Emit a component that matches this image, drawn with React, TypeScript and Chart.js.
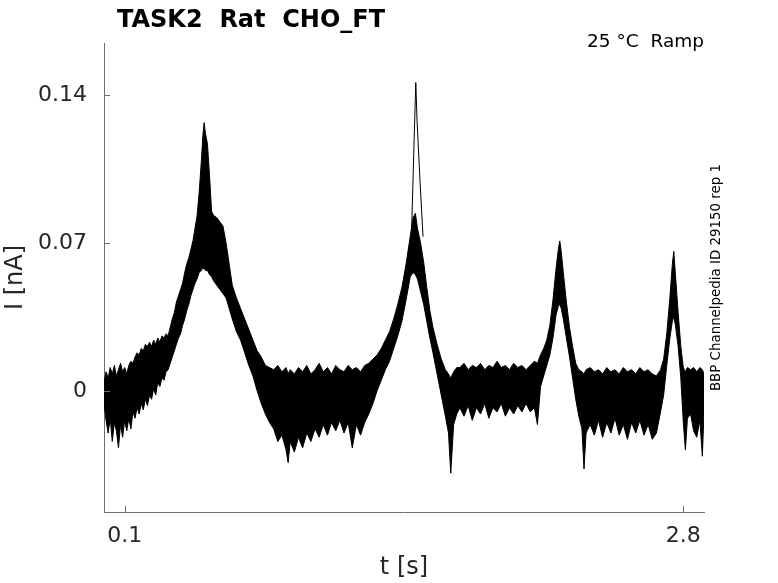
import React, { useEffect, useRef } from 'react';
import Chart from 'chart.js/auto';

// time axis [s], shared by the upper and lower edge of the sweep bundle
const timeS = [
  0.0, 0.01, 0.02, 0.03, 0.04, 0.05, 0.06, 0.07, 0.08, 0.09,
  0.1, 0.11, 0.12, 0.13, 0.14, 0.15, 0.16, 0.17, 0.18, 0.19,
  0.2, 0.21, 0.22, 0.23, 0.24, 0.25, 0.26, 0.27, 0.28, 0.29,
  0.3, 0.31, 0.32, 0.33, 0.34, 0.35, 0.36, 0.37, 0.38, 0.39,
  0.4, 0.41, 0.42, 0.43, 0.44, 0.45, 0.46, 0.47, 0.478, 0.484,
  0.49, 0.5, 0.51, 0.52, 0.53, 0.545, 0.56, 0.575, 0.59, 0.605,
  0.62, 0.64, 0.66, 0.68, 0.7, 0.72, 0.74, 0.76, 0.78, 0.8,
  0.82, 0.84, 0.86, 0.88, 0.89, 0.9, 0.92, 0.94, 0.96, 0.98,
  1.0, 1.02, 1.04, 1.06, 1.08, 1.1, 1.12, 1.14, 1.16, 1.18,
  1.2, 1.22, 1.24, 1.26, 1.28, 1.3, 1.32, 1.34, 1.36, 1.38,
  1.4, 1.42, 1.44, 1.46, 1.48, 1.494, 1.505, 1.515, 1.53, 1.545,
  1.56, 1.575, 1.59, 1.61, 1.63, 1.65, 1.665, 1.676, 1.69, 1.705,
  1.72, 1.74, 1.76, 1.78, 1.8, 1.82, 1.84, 1.86, 1.88, 1.9,
  1.92, 1.94, 1.96, 1.98, 2.0, 2.02, 2.04, 2.06, 2.08, 2.095,
  2.11, 2.125, 2.14, 2.155, 2.17, 2.185, 2.196, 2.203, 2.21, 2.22,
  2.235, 2.25, 2.265, 2.28, 2.295, 2.31, 2.32, 2.33, 2.35, 2.37,
  2.39, 2.41, 2.43, 2.45, 2.47, 2.49, 2.51, 2.53, 2.55, 2.57,
  2.59, 2.61, 2.63, 2.65, 2.67, 2.69, 2.705, 2.72, 2.735, 2.747,
  2.754, 2.762, 2.775, 2.788, 2.8, 2.81, 2.82, 2.835, 2.85, 2.865,
  2.88, 2.892, 2.9,
];

// upper edge of the overlapping sweeps [nA]
const upperNA = [
  0.004, 0.009, 0.006, 0.011, 0.008, 0.012, 0.007, 0.01, 0.013, 0.009,
  0.011, 0.008, 0.012, 0.014, 0.013, 0.016, 0.018, 0.017, 0.02, 0.019,
  0.022, 0.021, 0.023, 0.021, 0.024, 0.022, 0.025, 0.023, 0.026, 0.025,
  0.027, 0.026, 0.03, 0.034, 0.037, 0.042, 0.045, 0.048, 0.051, 0.056,
  0.06, 0.063, 0.067, 0.071, 0.077, 0.083, 0.094, 0.108, 0.121, 0.127,
  0.122, 0.117, 0.102, 0.085, 0.083, 0.082, 0.08, 0.078, 0.07, 0.06,
  0.05, 0.044, 0.039, 0.034, 0.029, 0.024, 0.019, 0.016, 0.012, 0.011,
  0.01, 0.012, 0.009, 0.011, 0.008, 0.01, 0.008, 0.011, 0.009, 0.012,
  0.008, 0.01, 0.013, 0.009, 0.011, 0.008, 0.012, 0.01, 0.009, 0.012,
  0.01, 0.011, 0.009, 0.012, 0.013, 0.015, 0.017, 0.02, 0.024, 0.028,
  0.034, 0.041, 0.049, 0.06, 0.073, 0.082, 0.084, 0.077, 0.07, 0.061,
  0.049, 0.038, 0.03, 0.022, 0.015, 0.01, 0.008, 0.006, 0.009, 0.011,
  0.011, 0.013, 0.01, 0.012, 0.011, 0.013, 0.01, 0.012, 0.011, 0.014,
  0.011, 0.012, 0.01, 0.013, 0.011, 0.012, 0.01, 0.012, 0.014, 0.013,
  0.017, 0.02, 0.024, 0.031, 0.043, 0.058, 0.067, 0.071, 0.066, 0.056,
  0.042, 0.03, 0.021, 0.013, 0.01, 0.009, 0.008, 0.01, 0.011, 0.009,
  0.01, 0.008, 0.011, 0.009, 0.01, 0.008, 0.011, 0.009, 0.01, 0.008,
  0.011, 0.009, 0.01, 0.008, 0.007, 0.01, 0.015, 0.027, 0.044, 0.06,
  0.066, 0.055, 0.037, 0.021, 0.011, 0.009, 0.011, 0.01, 0.011, 0.009,
  0.011, 0.01, 0.008,
];

// lower edge of the overlapping sweeps [nA]
const lowerNA = [
  -0.006, -0.014, -0.02, -0.013, -0.024, -0.015, -0.019, -0.027, -0.016, -0.022,
  -0.014, -0.019, -0.013, -0.018, -0.01, -0.013, -0.008, -0.011, -0.006, -0.009,
  -0.004, -0.007, -0.002, -0.004, 0.001, -0.002, 0.004, 0.002, 0.006, 0.005,
  0.009, 0.01, 0.013, 0.016, 0.019, 0.022, 0.025, 0.027, 0.031, 0.034,
  0.038, 0.041, 0.045, 0.048, 0.051, 0.053, 0.056, 0.057, 0.058, 0.058,
  0.057, 0.057, 0.055, 0.054, 0.052, 0.05, 0.048, 0.046, 0.044, 0.039,
  0.034, 0.028, 0.024, 0.018, 0.012, 0.007, 0.0, -0.006, -0.011, -0.015,
  -0.018, -0.024, -0.021, -0.028, -0.034, -0.024, -0.029, -0.022, -0.027, -0.02,
  -0.024, -0.018, -0.022, -0.016, -0.021, -0.015, -0.019, -0.014, -0.02, -0.015,
  -0.027, -0.016, -0.021, -0.015, -0.011, -0.006, 0.0, 0.005, 0.01, 0.014,
  0.02, 0.026, 0.033, 0.043, 0.054, 0.056, 0.055, 0.053, 0.047, 0.041,
  0.033, 0.025, 0.018, 0.008, -0.002, -0.012, -0.02, -0.039, -0.016, -0.011,
  -0.008, -0.012, -0.007, -0.014, -0.008, -0.011, -0.006, -0.013, -0.008, -0.01,
  -0.006, -0.012, -0.008, -0.011, -0.007, -0.01, -0.006, -0.01, -0.008, -0.016,
  0.002, 0.007, 0.012, 0.017, 0.025, 0.036, 0.04, 0.041, 0.039, 0.034,
  0.025, 0.016, 0.006, -0.004, -0.012, -0.018, -0.037, -0.02, -0.016, -0.021,
  -0.014, -0.022, -0.015, -0.02, -0.013, -0.021, -0.016, -0.023, -0.015, -0.02,
  -0.014, -0.021, -0.016, -0.023, -0.02, -0.01, -0.002, 0.012, 0.025, 0.033,
  0.035, 0.031, 0.021, 0.006, -0.015, -0.028, -0.013, -0.011, -0.019, -0.022,
  -0.014, -0.031, -0.01,
];

// single sweep that overshoots at the second peak
const spikeTimeS = [1.486, 1.497, 1.507, 1.513, 1.527, 1.542];
const spikeNA = [0.073, 0.112, 0.146, 0.128, 0.1, 0.073];

const xTickValues = [0.1, 2.8];
const yTickValues = [0, 0.07, 0.14];

const toPoints = (xs: number[], ys: number[]) => xs.map((x, i) => ({ x, y: ys[i] }));

const FONT = '"DejaVu Sans", sans-serif';
const AXIS_GREY = '#6e6e6e';
const TEXT_DARK = '#262626';

// inward tick marks plus the free-standing texts
const decorPlugin = {
  id: 'decor',
  afterDraw(chart: any) {
    const { ctx, chartArea, scales } = chart;
    ctx.save();
    ctx.strokeStyle = AXIS_GREY;
    ctx.lineWidth = 1;
    ctx.beginPath();
    xTickValues.forEach(v => {
      const px = Math.round(scales.x.getPixelForValue(v)) + 0.5;
      ctx.moveTo(px, chartArea.bottom);
      ctx.lineTo(px, chartArea.bottom - 6);
    });
    yTickValues.forEach(v => {
      const py = Math.round(scales.y.getPixelForValue(v)) + 0.5;
      ctx.moveTo(chartArea.left, py);
      ctx.lineTo(chartArea.left + 6, py);
    });
    ctx.stroke();

    ctx.fillStyle = '#000';
    ctx.textBaseline = 'alphabetic';
    ctx.font = `bold 24px ${FONT}`;
    ctx.textAlign = 'left';
    ctx.fillText('TASK2  Rat  CHO_FT', 117, 27);

    ctx.font = `18.5px ${FONT}`;
    ctx.textAlign = 'right';
    ctx.fillText('25 °C  Ramp', chartArea.right, 47);

    ctx.translate(716.5, (chartArea.top + chartArea.bottom) / 2);
    ctx.rotate(-Math.PI / 2);
    ctx.font = `13.4px ${FONT}`;
    ctx.textAlign = 'center';
    ctx.textBaseline = 'middle';
    ctx.fillText('BBP Channelpedia ID 29150 rep 1', 0, 0);
    ctx.restore();
  },
};

const App: React.FC = () => {
  const canvasRef = useRef<HTMLCanvasElement>(null);

  useEffect(() => {
    if (!canvasRef.current) return;
    const chart = new Chart(canvasRef.current, {
      type: 'line',
      data: {
        datasets: [
          {
            label: 'upper',
            data: toPoints(timeS, upperNA),
            borderColor: '#000',
            borderWidth: 1,
            pointRadius: 0,
            fill: false,
          },
          {
            label: 'lower',
            data: toPoints(timeS, lowerNA),
            borderColor: '#000',
            backgroundColor: '#000',
            borderWidth: 1,
            pointRadius: 0,
            fill: '-1',
          },
          {
            label: 'spike',
            data: toPoints(spikeTimeS, spikeNA),
            borderColor: '#000',
            borderWidth: 1,
            pointRadius: 0,
            fill: false,
          },
        ],
      },
      options: {
        animation: false,
        responsive: true,
        maintainAspectRatio: false,
        layout: { padding: { top: 43, right: 74, left: 0, bottom: 0 } },
        plugins: { legend: { display: false }, tooltip: { enabled: false } },
        scales: {
          x: {
            type: 'linear',
            min: 0,
            max: 2.9,
            afterBuildTicks: (s: any) => { s.ticks = xTickValues.map(value => ({ value })); },
            afterFit: (s: any) => { s.height = 71; },
            ticks: {
              autoSkip: false,
              maxRotation: 0,
              padding: 11,
              color: TEXT_DARK,
              font: { family: FONT, size: 22 },
              callback: (v: any) => String(v),
            },
            grid: { display: false, drawTicks: false },
            border: { color: AXIS_GREY, width: 1 },
            title: {
              display: true,
              text: 't [s]',
              color: TEXT_DARK,
              font: { family: FONT, size: 24 },
              padding: { top: 0, bottom: 1 },
            },
          },
          y: {
            type: 'linear',
            min: -0.0574,
            max: 0.1647,
            afterBuildTicks: (s: any) => { s.ticks = yTickValues.map(value => ({ value })); },
            afterFit: (s: any) => { s.width = 104; },
            ticks: {
              autoSkip: false,
              padding: 17,
              color: TEXT_DARK,
              font: { family: FONT, size: 22 },
              callback: (v: any) => String(v),
            },
            grid: { display: false, drawTicks: false },
            border: { color: AXIS_GREY, width: 1 },
            title: {
              display: true,
              text: 'I [nA]',
              color: TEXT_DARK,
              font: { family: FONT, size: 24 },
              padding: { top: 1, bottom: 0 },
            },
          },
        },
      },
      plugins: [decorPlugin],
    });
    return () => chart.destroy();
  }, []);

  return (
    <div style={{ position: 'absolute', left: 0, top: 0, width: 778, height: 583, background: '#fff' }}>
      <canvas ref={canvasRef} />
    </div>
  );
};

export default App;
